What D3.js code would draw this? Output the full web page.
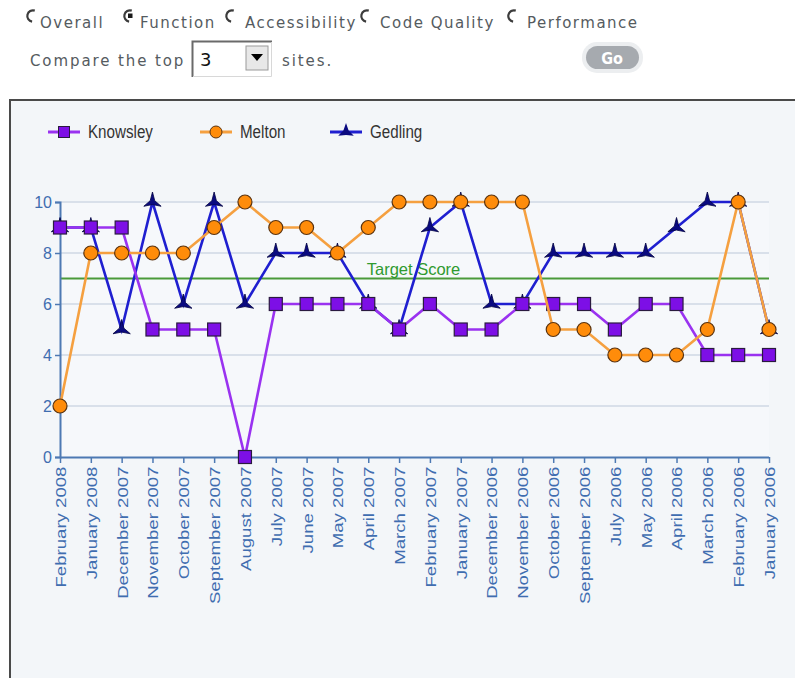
<!DOCTYPE html>
<html>
<head>
<meta charset="utf-8">
<script src="https://cdn.jsdelivr.net/npm/d3@7/dist/d3.min.js"></script>
<style>
html,body{margin:0;padding:0;background:#ffffff;overflow:hidden;}
svg{display:block;}
</style>
</head>
<body>
<svg id="c" width="795" height="678"></svg>
<script>
const categories = ["February 2008","January 2008","December 2007","November 2007","October 2007","September 2007","August 2007","July 2007","June 2007","May 2007","April 2007","March 2007","February 2007","January 2007","December 2006","November 2006","October 2006","September 2006","July 2006","May 2006","April 2006","March 2006","February 2006","January 2006"];
const knowsley = [9,9,9,5,5,5,0,6,6,6,6,5,6,5,5,6,6,6,5,6,6,4,4,4];
const melton   = [2,8,8,8,8,9,10,9,9,8,9,10,10,10,10,10,5,5,4,4,4,5,10,5];
const gedling  = [9,9,5,10,6,10,6,8,8,8,6,5,9,10,6,6,8,8,8,8,9,10,10,5];
const seriesNames = ["Knowsley","Melton","Gedling"];
const yTicks = [0,2,4,6,8,10];
const targetValue = 7;
const targetLabel = "Target Score";
const radioLabels = ["Overall","Function","Accessibility","Code Quality","Performance"];
const selectedRadio = "Function";
const topCount = "3";

const svg = d3.select("#c");

// ---------- top controls ----------
const radioCX = [33, 130, 232, 367, 514];
const textX = [40, 140, 245, 380, 527];
const ctl = svg.append("g").attr("font-family","DejaVu Sans, Verdana, sans-serif").attr("font-size","15px").attr("fill","#555b60");
radioLabels.forEach((lab,i)=>{
  const cx = radioCX[i], cy = 16;
  const arc = d3.arc()({innerRadius:4.6, outerRadius:6.8, startAngle:Math.PI*0.1, endAngle:-Math.PI*0.95});
  ctl.append("path").attr("d",arc).attr("transform",`translate(${cx},${cy})`).attr("fill","#3c3c3c");
  if(lab===selectedRadio){
    ctl.append("rect").attr("x",cx-2).attr("y",cy-2.5).attr("width",4.5).attr("height",4.5).attr("fill","#1a1a1a");
  }
  ctl.append("text").attr("x",textX[i]).attr("y",28).attr("letter-spacing","1.5px").text(lab);
});
ctl.append("text").attr("x",30).attr("y",66).attr("letter-spacing","1.9px").text("Compare the top");
ctl.append("text").attr("x",282).attr("y",66).attr("letter-spacing","1.9px").text("sites.");
// select box
const sel = svg.append("g");
sel.append("rect").attr("x",192).attr("y",41).attr("width",80).attr("height",36).attr("fill","#ffffff");
sel.append("path").attr("d","M192.5,77 V41.5 H272").attr("stroke","#6a6a6a").attr("stroke-width",2).attr("fill","none");
sel.append("path").attr("d","M193,76.5 H271.5 V42").attr("stroke","#d8d8d8").attr("stroke-width",1).attr("fill","none");
sel.append("text").attr("x",200).attr("y",66).attr("font-family","DejaVu Sans, sans-serif").attr("font-size","18px").attr("fill","#111").text(topCount);
sel.append("rect").attr("x",246).attr("y",46).attr("width",22).attr("height",24).attr("fill","#e8e8e8").attr("stroke","#9a9a9a");
sel.append("path").attr("d","M251,54 L263,54 L257,61 Z").attr("fill","#000");
// Go button
const go = svg.append("g");
go.append("rect").attr("x",582).attr("y",42).attr("width",61).attr("height",31).attr("rx",15).attr("fill","#eceef0");
go.append("rect").attr("x",586).attr("y",46).attr("width",53).attr("height",23).attr("rx",11.5).attr("fill","#a6aaaf");
go.append("text").attr("x",612).attr("y",64).attr("text-anchor","middle").attr("font-family","DejaVu Sans Condensed, DejaVu Sans, sans-serif").attr("font-weight","bold").attr("font-size","16px").attr("fill","#ffffff").text("Go");

// ---------- chart panel ----------
svg.append("rect").attr("x",10).attr("y",100).attr("width",800).attr("height",600).attr("fill","#f3f6f9").attr("stroke","#4a4a4a").attr("stroke-width",2);

const x = d3.scalePoint().domain(categories).range([60,769]);
const y = d3.scaleLinear().domain([0,10]).range([457,202]);
const plotL = 60, plotR = 769;

svg.append("rect").attr("x",plotL).attr("y",y(10)).attr("width",plotR-plotL).attr("height",y(0)-y(10)).attr("fill","#f6f8fb");

// gridlines
svg.append("g").selectAll("line").data(yTicks.filter(d=>d>0)).join("line")
  .attr("x1",plotL).attr("x2",plotR).attr("y1",d=>y(d)).attr("y2",d=>y(d))
  .attr("stroke","#d9e0ea").attr("stroke-width",2);

// target line
svg.append("line").attr("x1",plotL).attr("x2",plotR).attr("y1",y(targetValue)).attr("y2",y(targetValue))
  .attr("stroke","#4a9a3a").attr("stroke-width",2);
svg.append("text").attr("x",(plotL+plotR)/2-1).attr("y",y(targetValue)-4).attr("text-anchor","middle")
  .attr("font-family","Liberation Sans, Arial, sans-serif").attr("font-size","16.5px").attr("fill","#2f9a2f").text(targetLabel);

// axes
const axisColor = "#4d79b3";
const yAxis = svg.append("g").attr("transform",`translate(${plotL},0)`)
  .call(d3.axisLeft(y).tickValues(yTicks).tickSize(5).tickPadding(3));
const xAxis = svg.append("g").attr("transform",`translate(0,${y(0)})`)
  .call(d3.axisBottom(x).tickSize(6).tickSizeOuter(0));
[yAxis,xAxis].forEach(a=>{
  a.select(".domain").attr("stroke",axisColor).attr("stroke-width",2);
  a.selectAll(".tick line").attr("stroke",axisColor).attr("stroke-width",1.5);
  a.selectAll("text").attr("fill","#3f6db0").attr("font-family","Liberation Sans, Arial, sans-serif").attr("font-size","16px");
});
xAxis.select(".domain").attr("d",`M${plotL},0.5H${plotR}`);
xAxis.selectAll(".tick text").attr("transform","rotate(-90) scale(1.2,1)").attr("text-anchor","end")
  .attr("x",-8).attr("y",0).attr("dy","0.35em").attr("font-size","15.5px");

// markers
function starPath(R, r){
  const pts=[];
  for(let i=0;i<6;i++){
    const outer = i%2===0;
    const ang = (-90 + i*60)*Math.PI/180;
    const rad = outer?R:r;
    pts.push([Math.cos(ang)*rad, Math.sin(ang)*rad*(outer && i>0?0.85:1)]);
  }
  return "M"+pts.map(p=>p[0].toFixed(2)+","+p[1].toFixed(2)).join("L")+"Z";
}
const styles = {
  Knowsley:{line:"#9a32f0", fill:"#7d0fe6", stroke:"#2a1a40", type:"square"},
  Melton:{line:"#f5a040", fill:"#ff8c0a", stroke:"#5a3310", type:"circle"},
  Gedling:{line:"#1f1fd0", fill:"#0a0a80", stroke:"#000040", type:"star"}
};
function drawMarker(g, type, st){
  if(type==="square"){
    g.append("rect").attr("x",-6.5).attr("y",-6.5).attr("width",13).attr("height",13).attr("fill",st.fill).attr("stroke",st.stroke).attr("stroke-width",1.2);
  } else if(type==="circle"){
    g.append("circle").attr("r",7).attr("fill",st.fill).attr("stroke",st.stroke).attr("stroke-width",1.2);
  } else {
    g.append("path").attr("d",starPath(10,2.6)).attr("fill",st.fill).attr("stroke",st.stroke).attr("stroke-width",0.8);
  }
}
const dataBy = {Knowsley:knowsley, Melton:melton, Gedling:gedling};
const line = d3.line().x((d,i)=>x(categories[i])).y(d=>y(d));
["Gedling","Knowsley","Melton"].forEach(name=>{
  const st = styles[name];
  const vals = dataBy[name];
  svg.append("path").attr("d",line(vals)).attr("fill","none").attr("stroke",st.line).attr("stroke-width",2.6).attr("stroke-linejoin","miter");
  const mg = svg.append("g");
  vals.forEach((v,i)=>{
    const g = mg.append("g").attr("transform",`translate(${x(categories[i])},${y(v)})`);
    drawMarker(g, st.type, st);
  });
});

// legend
const legX = [48, 200, 330];
const leg = svg.append("g");
seriesNames.forEach((name,i)=>{
  const st = styles[name];
  const g = leg.append("g").attr("transform",`translate(${legX[i]},132)`);
  g.append("line").attr("x1",0).attr("x2",32).attr("y1",0).attr("y2",0).attr("stroke",st.line).attr("stroke-width",3);
  const m = g.append("g").attr("transform","translate(16,0)");
  if(st.type==="square") m.append("rect").attr("x",-5.5).attr("y",-5.5).attr("width",11).attr("height",11).attr("fill",st.fill).attr("stroke",st.stroke);
  else if(st.type==="circle") m.append("circle").attr("r",6).attr("fill",st.fill).attr("stroke",st.stroke);
  else m.append("path").attr("d",starPath(9,3)).attr("fill",st.fill);
  g.append("text").attr("x",40).attr("y",6).attr("transform","translate(40,6) scale(0.92,1.1) translate(-40,-6)").attr("font-family","Liberation Sans, Arial, sans-serif").attr("font-size","16.5px").attr("fill","#333").text(name);
});
</script>
</body>
</html>
